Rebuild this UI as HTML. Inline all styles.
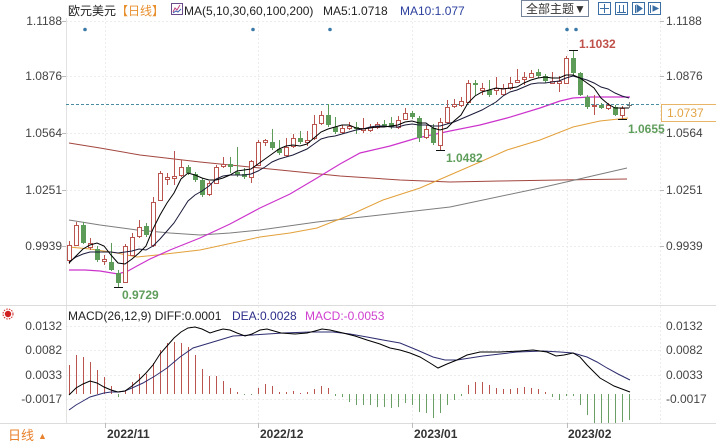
<!DOCTYPE html>
<html><head><meta charset="utf-8"><style>
html,body{margin:0;padding:0;background:#fff;}
svg{display:block;font-family:"Liberation Sans","Noto Sans CJK SC",sans-serif;}
.u line,.u rect{stroke:#b9544f;stroke-width:1;fill:#fff;}
.d line{stroke:#5c9c58;stroke-width:1;}
.d rect{fill:#5c9c58;}
.hr line{stroke:#b9544f;stroke-width:1;}
.hg line{stroke:#6aa066;stroke-width:1;}
.ax{font-size:12px;fill:#444;}
</style></head><body>
<svg width="716" height="443" viewBox="0 0 716 443" xmlns="http://www.w3.org/2000/svg">
<rect width="716" height="443" fill="#fff"/>
<!-- grid -->
<g stroke="#ececec" stroke-width="1" stroke-dasharray="2,2">
<line x1="66" y1="21.5" x2="660" y2="21.5"/><line x1="66" y1="76.5" x2="660" y2="76.5"/><line x1="66" y1="133.5" x2="660" y2="133.5"/><line x1="66" y1="190.5" x2="660" y2="190.5"/><line x1="66" y1="246.5" x2="660" y2="246.5"/>
<line x1="66" y1="326.5" x2="660" y2="326.5"/><line x1="66" y1="350.5" x2="660" y2="350.5"/><line x1="66" y1="375.5" x2="660" y2="375.5"/><line x1="66" y1="399.5" x2="660" y2="399.5"/>
<line x1="105.5" y1="18" x2="105.5" y2="423"/><line x1="258.5" y1="18" x2="258.5" y2="423"/><line x1="412.5" y1="18" x2="412.5" y2="423"/><line x1="567.5" y1="18" x2="567.5" y2="423"/>
<line x1="660.5" y1="18" x2="660.5" y2="423"/>
</g>
<line x1="66.5" y1="18" x2="66.5" y2="423" stroke="#e2e2e2"/>
<line x1="0" y1="305.5" x2="716" y2="305.5" stroke="#dcdcdc"/>
<line x1="0" y1="423.5" x2="716" y2="423.5" stroke="#dcdcdc"/>
<g stroke="#bbb"><line x1="105.5" y1="423" x2="105.5" y2="428"/><line x1="258.5" y1="423" x2="258.5" y2="428"/><line x1="412.5" y1="423" x2="412.5" y2="428"/><line x1="567.5" y1="423" x2="567.5" y2="428"/>
<line x1="62" y1="21.5" x2="66" y2="21.5"/><line x1="62" y1="76.5" x2="66" y2="76.5"/><line x1="62" y1="133.5" x2="66" y2="133.5"/><line x1="62" y1="190.5" x2="66" y2="190.5"/><line x1="62" y1="246.5" x2="66" y2="246.5"/>
<line x1="660" y1="21.5" x2="664" y2="21.5"/><line x1="660" y1="76.5" x2="664" y2="76.5"/><line x1="660" y1="133.5" x2="664" y2="133.5"/><line x1="660" y1="190.5" x2="664" y2="190.5"/><line x1="660" y1="246.5" x2="664" y2="246.5"/>
</g>

<!-- header -->
<text x="68" y="15" font-size="12" fill="#222">欧元美元</text>
<text x="116" y="15" font-size="12" fill="#e8902e">【日线】</text>
<g transform="translate(171,3)"><rect x="0.5" y="0.5" width="11" height="11" fill="#fff" stroke="#6a4a8a"/><polyline points="2,9 4,5 6,7 9,2" fill="none" stroke="#c04080" stroke-width="1"/><polyline points="2,10 5,8 7,9 10,6" fill="none" stroke="#4060b0" stroke-width="1"/></g>
<text x="184" y="15" font-size="12" fill="#222">MA(5,10,30,60,100,200)</text>
<text x="323" y="15" font-size="12" fill="#222">MA5:1.0718</text>
<text x="400" y="15" font-size="12" fill="#2b3f9e">MA10:1.077</text>
<rect x="521.5" y="0.5" width="67" height="16" fill="#fff" stroke="#74849a"/>
<text x="526" y="13" font-size="12" fill="#333">全部主题▼</text>
<g fill="#fff" stroke="#3a6ea5">
<rect x="598.5" y="2.5" width="12" height="12"/><rect x="615.5" y="2.5" width="12" height="12"/><rect x="632.5" y="2.5" width="12" height="12"/><rect x="648.5" y="2.5" width="12" height="12"/>
</g>
<g stroke="#3a6ea5" fill="none">
<line x1="604.5" y1="4" x2="604.5" y2="13"/><line x1="600" y1="8.5" x2="609" y2="8.5"/>
<line x1="619.5" y1="5" x2="619.5" y2="12"/><line x1="623.5" y1="5" x2="623.5" y2="12"/><line x1="617" y1="12.5" x2="626" y2="12.5"/>
<line x1="635.5" y1="5" x2="635.5" y2="13"/><polygon points="637,5 642,8.5 637,12" fill="#3a6ea5"/>
<line x1="650.5" y1="5" x2="650.5" y2="13"/><polygon points="653,6 658,8.5 653,11" fill="#3a6ea5"/>
</g>

<!-- axis labels main -->
<g class="ax" text-anchor="end">
<text x="62" y="25">1.1188</text><text x="62" y="80">1.0876</text><text x="62" y="137">1.0564</text><text x="62" y="194">1.0251</text><text x="62" y="250">0.9939</text>
</g>
<g class="ax">
<text x="666" y="25">1.1188</text><text x="666" y="80">1.0876</text><text x="666" y="137">1.0564</text><text x="666" y="194">1.0251</text><text x="666" y="250">0.9939</text>
</g>

<!-- blue markers -->
<g fill="#3b7aa8"><circle cx="85" cy="29.5" r="1.8"/><circle cx="253" cy="29.5" r="1.8"/><circle cx="330" cy="29.5" r="1.8"/><circle cx="567" cy="29.5" r="1.8"/><circle cx="576" cy="29.5" r="1.8"/></g>

<!-- long MAs -->
<polyline fill="none" stroke="#a2463f" stroke-width="1" points="69,143 100,148 140,155 200,162 260,168 300,172 340,176 400,180 450,182 500,181 560,180 627,179"/>
<polyline fill="none" stroke="#7d7d7d" stroke-width="1" points="69,220 100,225 137,230 170,233 200,235 230,233 260,230 317,222 380,215 450,207 540,188 627,168"/>
<polyline fill="none" stroke="#e3a03a" stroke-width="1" points="69,247 90,249 117,253 137,257 157,255 200,250 260,237 290,233 317,228 350,215 383,200 420,188 450,175 480,162 507,150 540,140 573,127 600,121 628,118"/>
<polyline fill="none" stroke="#cc33cc" stroke-width="1.2" points="69,270 85,270 100,271 118,274 128,271 137,266 150,259 170,250 200,238 230,224 260,208 290,194 317,178 340,164 360,153 390,146 417,138 450,131 480,125 507,118 540,108 560,101 573,98 590,97 610,97 630,97"/>

<!-- dashed current price -->
<line x1="66" y1="104.5" x2="661" y2="104.5" stroke="#4b8da0" stroke-dasharray="3,2"/>
<rect x="661.5" y="104.5" width="56" height="17" fill="#fff" stroke="#e8b468"/>
<text x="667" y="117" font-size="12" fill="#e3a344">1.0737</text>

<!-- up candles -->
<g class="u">
<line x1="69.5" y1="241" x2="69.5" y2="264"/><rect x="67.5" y="245.5" width="4" height="15"/>
<line x1="76.5" y1="222" x2="76.5" y2="246"/><rect x="74.5" y="225.5" width="4" height="20"/>
<line x1="90.5" y1="238" x2="90.5" y2="250"/><rect x="88.5" y="243.5" width="4" height="4"/>
<line x1="104.5" y1="255" x2="104.5" y2="265"/><rect x="102.5" y="259.5" width="4" height="2"/>
<line x1="125.5" y1="244" x2="125.5" y2="283"/><rect x="123.5" y="246.5" width="4" height="36"/>
<line x1="132.5" y1="233" x2="132.5" y2="256"/><rect x="130.5" y="237.5" width="4" height="18"/>
<line x1="139.5" y1="220" x2="139.5" y2="238"/><rect x="137.5" y="227.5" width="4" height="9"/>
<line x1="153.5" y1="197" x2="153.5" y2="247"/><rect x="151.5" y="202.5" width="4" height="43"/>
<line x1="160.5" y1="171" x2="160.5" y2="201"/><rect x="158.5" y="173.5" width="4" height="27"/>
<line x1="167.5" y1="173" x2="167.5" y2="185"/><rect x="165.5" y="177.5" width="4" height="2"/>
<line x1="174.5" y1="151" x2="174.5" y2="185"/><rect x="172.5" y="176.5" width="4" height="2"/>
<line x1="181.5" y1="160" x2="181.5" y2="177"/><rect x="179.5" y="167.5" width="4" height="8"/>
<line x1="209.5" y1="181" x2="209.5" y2="196"/><rect x="207.5" y="183.5" width="4" height="11"/>
<line x1="216.5" y1="165" x2="216.5" y2="184"/><rect x="214.5" y="167.5" width="4" height="16"/>
<line x1="223.5" y1="157" x2="223.5" y2="168"/><rect x="221.5" y="164.5" width="4" height="2"/>
<line x1="251.5" y1="160" x2="251.5" y2="183"/><rect x="249.5" y="161.5" width="4" height="16"/>
<line x1="258.5" y1="140" x2="258.5" y2="166"/><rect x="256.5" y="142.5" width="4" height="23"/>
<line x1="265.5" y1="139" x2="265.5" y2="146"/><rect x="263.5" y="140.5" width="4" height="2"/>
<line x1="286.5" y1="138" x2="286.5" y2="157"/><rect x="284.5" y="147.5" width="4" height="8"/>
<line x1="293.5" y1="134" x2="293.5" y2="148"/><rect x="291.5" y="138.5" width="4" height="8"/>
<line x1="307.5" y1="131" x2="307.5" y2="146"/><rect x="305.5" y="140.5" width="4" height="2"/>
<line x1="314.5" y1="115" x2="314.5" y2="140"/><rect x="312.5" y="124.5" width="4" height="14"/>
<line x1="321.5" y1="111" x2="321.5" y2="125"/><rect x="319.5" y="115.5" width="4" height="8"/>
<line x1="342.5" y1="125" x2="342.5" y2="134"/><rect x="340.5" y="128.5" width="4" height="4"/>
<line x1="349.5" y1="122" x2="349.5" y2="130"/><rect x="347.5" y="126.5" width="4" height="2"/>
<line x1="363.5" y1="118" x2="363.5" y2="133"/><rect x="361.5" y="128.5" width="4" height="2"/>
<line x1="370.5" y1="124" x2="370.5" y2="132"/><rect x="368.5" y="127.5" width="4" height="3"/>
<line x1="377.5" y1="122" x2="377.5" y2="129"/><rect x="375.5" y="124.5" width="4" height="3"/>
<line x1="398.5" y1="116" x2="398.5" y2="129"/><rect x="396.5" y="120.5" width="4" height="7"/>
<line x1="405.5" y1="108" x2="405.5" y2="120"/><rect x="403.5" y="113.5" width="4" height="6"/>
<line x1="426.5" y1="125" x2="426.5" y2="139"/><rect x="424.5" y="129.5" width="4" height="8"/>
<line x1="440.5" y1="118" x2="440.5" y2="150"/><rect x="438.5" y="122.5" width="4" height="23"/>
<line x1="447.5" y1="100" x2="447.5" y2="124"/><rect x="445.5" y="107.5" width="4" height="15"/>
<line x1="454.5" y1="99" x2="454.5" y2="108"/><rect x="452.5" y="104.5" width="4" height="2"/>
<line x1="461.5" y1="97" x2="461.5" y2="107"/><rect x="459.5" y="101.5" width="4" height="4"/>
<line x1="468.5" y1="80" x2="468.5" y2="103"/><rect x="466.5" y="83.5" width="4" height="19"/>
<line x1="482.5" y1="83" x2="482.5" y2="95"/><rect x="480.5" y="88.5" width="4" height="2"/>
<line x1="496.5" y1="77" x2="496.5" y2="95"/><rect x="494.5" y="88.5" width="4" height="2"/>
<line x1="503.5" y1="84" x2="503.5" y2="96"/><rect x="501.5" y="88.5" width="4" height="6"/>
<line x1="510.5" y1="77" x2="510.5" y2="90"/><rect x="508.5" y="83.5" width="4" height="5"/>
<line x1="517.5" y1="69" x2="517.5" y2="83"/><rect x="515.5" y="80.5" width="4" height="2"/>
<line x1="524.5" y1="72" x2="524.5" y2="85"/><rect x="522.5" y="77.5" width="4" height="2"/>
<line x1="531.5" y1="70" x2="531.5" y2="78"/><rect x="529.5" y="73.5" width="4" height="4"/>
<line x1="552.5" y1="72" x2="552.5" y2="84"/><rect x="550.5" y="81.5" width="4" height="2"/>
<line x1="559.5" y1="76" x2="559.5" y2="92"/><rect x="557.5" y="81.5" width="4" height="2"/>
<line x1="566.5" y1="56" x2="566.5" y2="84"/><rect x="564.5" y="58.5" width="4" height="25"/>
<line x1="594.5" y1="95" x2="594.5" y2="115"/><rect x="592.5" y="105.5" width="4" height="1"/>
<line x1="608.5" y1="103" x2="608.5" y2="110"/><rect x="606.5" y="105.5" width="4" height="3"/>
<line x1="622.5" y1="106" x2="622.5" y2="119"/><rect x="620.5" y="108.5" width="4" height="7"/>
</g>
<!-- down candles -->
<g class="d">
<line x1="83.5" y1="222" x2="83.5" y2="244"/><rect x="81" y="225" width="5" height="18"/>
<line x1="97.5" y1="246" x2="97.5" y2="262"/><rect x="95" y="249" width="5" height="11"/>
<line x1="111.5" y1="243" x2="111.5" y2="271"/><rect x="109" y="262" width="5" height="8"/>
<line x1="118.5" y1="270" x2="118.5" y2="287"/><rect x="116" y="273" width="5" height="10"/>
<line x1="146.5" y1="223" x2="146.5" y2="237"/><rect x="144" y="226" width="5" height="9"/>
<line x1="188.5" y1="165" x2="188.5" y2="175"/><rect x="186" y="167" width="5" height="6"/>
<line x1="195.5" y1="172" x2="195.5" y2="182"/><rect x="193" y="174" width="5" height="6"/>
<line x1="202.5" y1="178" x2="202.5" y2="197"/><rect x="200" y="180" width="5" height="15"/>
<line x1="230.5" y1="157" x2="230.5" y2="173"/><rect x="228" y="164" width="5" height="3"/>
<line x1="237.5" y1="147" x2="237.5" y2="177"/><rect x="235" y="172" width="5" height="3"/>
<line x1="244.5" y1="168" x2="244.5" y2="179"/><rect x="242" y="174" width="5" height="3"/>
<line x1="272.5" y1="129" x2="272.5" y2="150"/><rect x="270" y="142" width="5" height="6"/>
<line x1="279.5" y1="140" x2="279.5" y2="155"/><rect x="277" y="149" width="5" height="4"/>
<line x1="300.5" y1="131" x2="300.5" y2="144"/><rect x="298" y="138" width="5" height="4"/>
<line x1="328.5" y1="104" x2="328.5" y2="127"/><rect x="326" y="115" width="5" height="10"/>
<line x1="335.5" y1="117" x2="335.5" y2="134"/><rect x="333" y="127" width="5" height="5"/>
<line x1="356.5" y1="122" x2="356.5" y2="134"/><rect x="354" y="127" width="5" height="2"/>
<line x1="384.5" y1="120" x2="384.5" y2="127"/><rect x="382" y="124" width="5" height="2"/>
<line x1="391.5" y1="117" x2="391.5" y2="129"/><rect x="389" y="123" width="5" height="4"/>
<line x1="412.5" y1="111" x2="412.5" y2="119"/><rect x="410" y="113" width="5" height="4"/>
<line x1="419.5" y1="116" x2="419.5" y2="142"/><rect x="417" y="118" width="5" height="20"/>
<line x1="433.5" y1="124" x2="433.5" y2="145"/><rect x="431" y="128" width="5" height="15"/>
<line x1="475.5" y1="80" x2="475.5" y2="95"/><rect x="473" y="83" width="5" height="2"/>
<line x1="489.5" y1="80" x2="489.5" y2="97"/><rect x="487" y="90" width="5" height="5"/>
<line x1="538.5" y1="69" x2="538.5" y2="78"/><rect x="536" y="72" width="5" height="4"/>
<line x1="545.5" y1="74" x2="545.5" y2="83"/><rect x="543" y="76" width="5" height="5"/>
<line x1="573.5" y1="50" x2="573.5" y2="75"/><rect x="571" y="58" width="5" height="15"/>
<line x1="580.5" y1="72" x2="580.5" y2="96"/><rect x="578" y="73" width="5" height="22"/>
<line x1="587.5" y1="95" x2="587.5" y2="109"/><rect x="585" y="97" width="5" height="10"/>
<line x1="601.5" y1="103" x2="601.5" y2="109"/><rect x="599" y="105" width="5" height="3"/>
<line x1="615.5" y1="105" x2="615.5" y2="116"/><rect x="613" y="107" width="5" height="8"/>
</g>
<!-- last candle -->
<line x1="629.5" y1="102" x2="629.5" y2="108" stroke="#777"/><line x1="627" y1="105.5" x2="632" y2="105.5" stroke="#777"/>
<!-- extreme markers -->
<g stroke="#111" stroke-width="1">
<line x1="114" y1="287.5" x2="123" y2="287.5"/>
<line x1="436" y1="150.5" x2="445" y2="150.5"/>
<line x1="569" y1="50.5" x2="578" y2="50.5"/>
<line x1="618" y1="119.5" x2="627" y2="119.5"/>
</g>

<!-- short MAs -->
<polyline fill="none" stroke="#1a1a3a" stroke-width="1" points="69,262 76,257 83,254 90,252 97,252 104,252 111,252 118,253 125,252 132,251 139,249 146,250 153,246 160,239 167,231 174,223 181,212 188,201 195,195 202,191 209,186 216,179 223,176 230,175 237,175 244,175 251,174 258,171 265,167 272,162 279,159 286,157 293,155 300,152 307,149 314,144 321,139 328,137 335,136 342,134 349,132 356,130 363,129 370,127 377,126 384,126 391,127 398,127 405,125 412,124 419,125 426,125 433,126 440,126 447,124 454,122 461,119 468,116 475,113 482,110 489,106 496,102 503,96 510,92 517,90 524,87 531,84 538,83 545,83 552,82 559,81 566,78 573,76 580,78 587,80 594,83 601,87 608,89 615,93 622,96 629,98"/>
<polyline fill="none" stroke="#000" stroke-width="1" points="69,263 76,256 83,249 90,245 97,243 104,246 111,255 118,263 125,264 132,259 139,253 146,246 153,229 160,215 167,203 174,193 181,179 188,173 195,175 202,178 209,180 216,180 223,178 230,175 237,171 244,170 251,169 258,164 265,159 272,154 279,149 286,146 293,145 300,146 307,144 314,138 321,132 328,129 335,127 342,125 349,125 356,128 363,129 370,128 377,127 384,127 391,126 398,125 405,122 412,121 419,123 426,123 433,128 440,130 447,128 454,121 461,115 468,103 475,96 482,92 489,90 496,88 503,89 510,88 517,87 524,83 531,80 538,78 545,77 552,78 559,78 566,75 573,75 580,78 587,83 594,88 601,98 608,104 615,108 622,108 629,108"/>

<!-- extreme labels -->
<text x="579" y="48" font-size="12" font-weight="bold" fill="#c0504a">1.1032</text>
<text x="628" y="133" font-size="12" font-weight="bold" fill="#5f9d5b">1.0655</text>
<text x="446" y="162" font-size="12" font-weight="bold" fill="#5f9d5b">1.0482</text>
<text x="122" y="299" font-size="12" font-weight="bold" fill="#5f9d5b">0.9729</text>

<!-- MACD panel -->
<g transform="translate(8,314)"><circle r="3.2" fill="#d02020"/><circle r="5" fill="none" stroke="#d02020" stroke-width="1" stroke-dasharray="1.5,1.2"/></g>
<text x="68" y="320" font-size="12" fill="#222">MACD(26,12,9) DIFF:0.0001</text>
<text x="232" y="320" font-size="12" fill="#2d2d8a">DEA:0.0028</text>
<text x="305" y="320" font-size="12" fill="#d040d0">MACD:-0.0053</text>
<g class="ax" text-anchor="end">
<text x="62" y="330">0.0132</text><text x="62" y="354">0.0082</text><text x="62" y="379">0.0033</text><text x="62" y="403">-0.0017</text>
</g>
<g class="ax">
<text x="666" y="330">0.0132</text><text x="666" y="354">0.0082</text><text x="666" y="379">0.0033</text><text x="666" y="403">-0.0017</text>
</g>
<g class="hr">
<line x1="69.5" y1="394" x2="69.5" y2="365"/><line x1="76.5" y1="394" x2="76.5" y2="355"/><line x1="83.5" y1="394" x2="83.5" y2="357"/><line x1="90.5" y1="394" x2="90.5" y2="362"/><line x1="97.5" y1="394" x2="97.5" y2="370"/><line x1="104.5" y1="394" x2="104.5" y2="377"/><line x1="111.5" y1="394" x2="111.5" y2="386"/>
<line x1="125.5" y1="394" x2="125.5" y2="390"/><line x1="132.5" y1="394" x2="132.5" y2="382"/><line x1="139.5" y1="394" x2="139.5" y2="374"/><line x1="146.5" y1="394" x2="146.5" y2="374"/><line x1="153.5" y1="394" x2="153.5" y2="363"/><line x1="160.5" y1="394" x2="160.5" y2="350"/><line x1="167.5" y1="394" x2="167.5" y2="343"/><line x1="174.5" y1="394" x2="174.5" y2="342"/><line x1="181.5" y1="394" x2="181.5" y2="343"/><line x1="188.5" y1="394" x2="188.5" y2="347"/><line x1="195.5" y1="394" x2="195.5" y2="355"/><line x1="202.5" y1="394" x2="202.5" y2="369"/><line x1="209.5" y1="394" x2="209.5" y2="376"/><line x1="216.5" y1="394" x2="216.5" y2="376"/><line x1="223.5" y1="394" x2="223.5" y2="381"/><line x1="230.5" y1="394" x2="230.5" y2="388"/><line x1="237.5" y1="394" x2="237.5" y2="392"/>
<line x1="258.5" y1="394" x2="258.5" y2="388"/><line x1="265.5" y1="394" x2="265.5" y2="384"/><line x1="272.5" y1="394" x2="272.5" y2="386"/><line x1="279.5" y1="394" x2="279.5" y2="392"/><line x1="286.5" y1="394" x2="286.5" y2="392"/><line x1="293.5" y1="394" x2="293.5" y2="391"/><line x1="300.5" y1="394" x2="300.5" y2="393"/><line x1="307.5" y1="394" x2="307.5" y2="392"/><line x1="314.5" y1="394" x2="314.5" y2="389"/><line x1="321.5" y1="394" x2="321.5" y2="386"/><line x1="328.5" y1="394" x2="328.5" y2="388"/>
<line x1="468.5" y1="394" x2="468.5" y2="385"/><line x1="475.5" y1="394" x2="475.5" y2="382"/><line x1="482.5" y1="394" x2="482.5" y2="382"/><line x1="489.5" y1="394" x2="489.5" y2="385"/><line x1="496.5" y1="394" x2="496.5" y2="388"/><line x1="503.5" y1="394" x2="503.5" y2="389"/><line x1="510.5" y1="394" x2="510.5" y2="389"/><line x1="517.5" y1="394" x2="517.5" y2="388"/><line x1="524.5" y1="394" x2="524.5" y2="387"/><line x1="531.5" y1="394" x2="531.5" y2="388"/><line x1="538.5" y1="394" x2="538.5" y2="389"/><line x1="545.5" y1="394" x2="545.5" y2="392"/>
</g>
<g class="hg">
<line x1="118.5" y1="394" x2="118.5" y2="397"/><line x1="244.5" y1="394" x2="244.5" y2="395"/><line x1="251.5" y1="394" x2="251.5" y2="395"/>
<line x1="335.5" y1="394" x2="335.5" y2="396"/><line x1="342.5" y1="394" x2="342.5" y2="397"/><line x1="349.5" y1="394" x2="349.5" y2="402"/><line x1="356.5" y1="394" x2="356.5" y2="405"/><line x1="363.5" y1="394" x2="363.5" y2="405"/><line x1="370.5" y1="394" x2="370.5" y2="405"/><line x1="377.5" y1="394" x2="377.5" y2="407"/><line x1="384.5" y1="394" x2="384.5" y2="407"/><line x1="391.5" y1="394" x2="391.5" y2="408"/><line x1="398.5" y1="394" x2="398.5" y2="407"/><line x1="405.5" y1="394" x2="405.5" y2="403"/><line x1="412.5" y1="394" x2="412.5" y2="405"/><line x1="419.5" y1="394" x2="419.5" y2="412"/><line x1="426.5" y1="394" x2="426.5" y2="413"/><line x1="433.5" y1="394" x2="433.5" y2="418"/><line x1="440.5" y1="394" x2="440.5" y2="413"/><line x1="447.5" y1="394" x2="447.5" y2="405"/><line x1="454.5" y1="394" x2="454.5" y2="400"/><line x1="461.5" y1="394" x2="461.5" y2="396"/>
<line x1="552.5" y1="394" x2="552.5" y2="397"/><line x1="559.5" y1="394" x2="559.5" y2="400"/><line x1="566.5" y1="394" x2="566.5" y2="396"/><line x1="573.5" y1="394" x2="573.5" y2="396"/><line x1="580.5" y1="394" x2="580.5" y2="405"/><line x1="587.5" y1="394" x2="587.5" y2="415"/><line x1="594.5" y1="394" x2="594.5" y2="423"/><line x1="601.5" y1="394" x2="601.5" y2="423"/><line x1="608.5" y1="394" x2="608.5" y2="423"/><line x1="615.5" y1="394" x2="615.5" y2="423"/><line x1="622.5" y1="394" x2="622.5" y2="422"/><line x1="629.5" y1="394" x2="629.5" y2="420"/>
</g>
<polyline fill="none" stroke="#2d2d70" stroke-width="1" points="69,410 76,405 83,401 90,397 97,395 104,393 111,392 118,392 125,391 132,388 143,383 155,376 167,368 180,357 193,348 203,345 213,342 223,339 233,336 253,335 283,333 310,332 333,332 350,334 367,337 383,340 400,343 417,350 433,357 445,360 457,360 470,358 483,356 500,354 517,352 543,351 560,352 573,353 587,357 597,362 607,368 618,374 630,380"/>
<polyline fill="none" stroke="#000" stroke-width="1" points="69,395 76,388 83,384 90,381 97,383 104,387 111,390 118,392 125,391 132,386 139,380 146,373 153,365 160,354 167,346 174,338 181,332 188,328 195,327 202,329 210,333 216,331 223,329 230,330 237,333 245,336 252,334 260,330 267,329 274,331 281,333 295,334 307,333 315,331 322,329 330,330 343,333 355,336 367,340 380,344 390,348 400,350 410,353 420,357 430,363 438,368 447,364 457,360 467,355 480,352 500,352 520,351 533,350 547,352 556,356 564,355 573,353 580,357 587,365 594,372 600,378 607,382 614,386 622,389 630,392"/>

<!-- date axis -->
<g font-size="12" font-weight="bold" fill="#333">
<text x="107" y="438">2022/11</text><text x="260" y="438">2022/12</text><text x="414" y="438">2023/01</text><text x="568" y="438">2023/02</text>
</g>
<text x="8" y="440" font-size="13" fill="#e8822e">日线</text>
<text x="38" y="439" font-size="9" fill="#e8822e">▲</text>
</svg>
</body></html>
